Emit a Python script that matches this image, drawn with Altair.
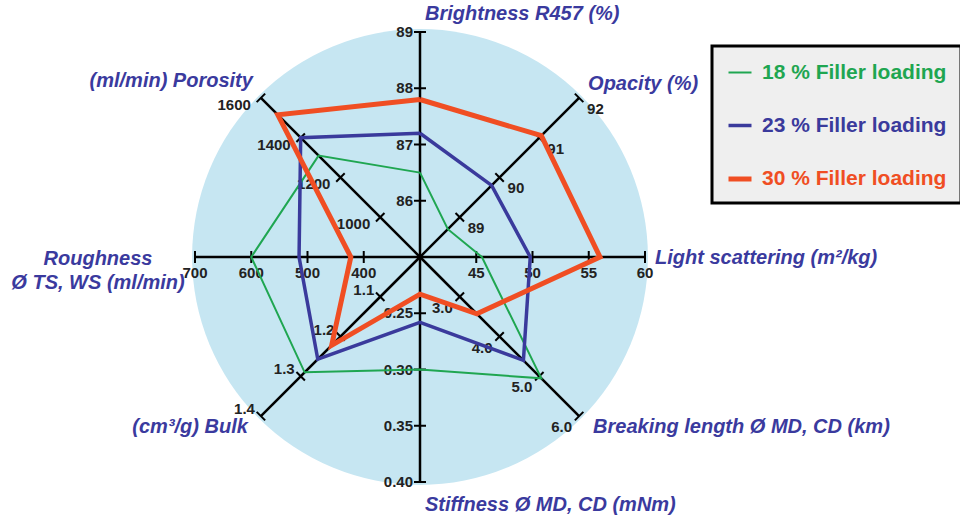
import math

import altair as alt
import pandas as pd

# ---- chart content -------------------------------------------------------
axis_names = [
    "Brightness R457 (%)",
    "Opacity (%)",
    "Light scattering (m²/kg)",
    "Breaking length Ø MD, CD (km)",
    "Stiffness Ø MD, CD (mNm)",
    "(cm³/g) Bulk",
    "Roughness\nØ TS, WS (ml/min)",
    "(ml/min) Porosity",
]
axis_min = [85, 88, 40, 2.0, 0.20, 1.0, 300, 800]
axis_max = [89, 92, 60, 6.0, 0.40, 1.4, 700, 1600]
tick_labels = [
    ["86", "87", "88", "89"],
    ["89", "90", "91", "92"],
    ["45", "50", "55", "60"],
    ["3.0", "4.0", "5.0", "6.0"],
    ["0.25", "0.30", "0.35", "0.40"],
    ["1.1", "1.2", "1.3", "1.4"],
    ["400", "500", "600", "700"],
    ["1000", "1200", "1400", "1600"],
]
series = ["18 % Filler loading", "23 % Filler loading", "30 % Filler loading"]
values_18 = [86.5, 88.7, 45.5, 5.05, 0.30, 1.29, 600, 1310]
values_23 = [87.2, 89.8, 49.8, 4.6, 0.258, 1.257, 515, 1400]
values_30 = [87.8, 91.05, 56.0, 3.43, 0.233, 1.222, 423, 1515]

# ---- styling ---------------------------------------------------------------
series_colors = ["#1fa651", "#3a3a9c", "#f04e23"]
series_widths = [2, 5, 7]
title_blue = "#3a3a9e"
disc_color = "#c6e6f2"
FONT = "Liberation Sans"

W, H = 960, 518
CX, CY = 420, 257          # centre of the web, px
R = 225                    # px per unit of normalised radius

# per-axis tick-label placement: (align, dx, dy)
tick_label_style = [
    ("right", -7, 0),
    ("left", 8, 11),
    ("center", 0, 16),
    ("right", -7, 11),
    ("right", -7, 0),
    ("right", -6, -7),
    ("center", 0, 16),
    ("right", -10, 7),
]
# per-axis title placement: (align, dx, dy)
title_style = [
    ("left", 5, -18),
    ("left", 9, -14),
    ("left", 10, 1),
    ("left", 14, 11),
    ("left", 5, 23),
    ("right", -13, 11),
    ("center", -97, 2),
    ("right", -8, -17),
]

n_axes = len(axis_names)


def direction(i):
    a = math.radians(i * 360 / n_axes)
    return math.sin(a), math.cos(a)


def norm(i, v):
    return (v - axis_min[i]) / (axis_max[i] - axis_min[i])


# ---- data frames ---------------------------------------------------------
spokes = []
for i in range(n_axes):
    ux, uy = direction(i)
    spokes.append({"axis": i, "x": 0.0, "y": 0.0, "x2": ux, "y2": uy})
spokes = pd.DataFrame(spokes)

half_tick = 6 / R
ticks, labels = [], []
for i in range(n_axes):
    ux, uy = direction(i)
    for lab in tick_labels[i]:
        r = norm(i, float(lab))
        px, py = ux * r, uy * r
        ticks.append({"axis": i,
                      "x": px - uy * half_tick, "y": py + ux * half_tick,
                      "x2": px + uy * half_tick, "y2": py - ux * half_tick})
        labels.append({"axis": i, "x": px, "y": py, "label": lab})
ticks = pd.DataFrame(ticks)
labels = pd.DataFrame(labels)

titles = []
for i in range(n_axes):
    ux, uy = direction(i)
    titles.append({"axis": i, "x": ux, "y": uy, "title": axis_names[i]})
titles = pd.DataFrame(titles)

rows = []
for s, vals in zip(series, [values_18, values_23, values_30]):
    for k in range(n_axes + 1):
        i = k % n_axes
        ux, uy = direction(i)
        r = norm(i, vals[i])
        rows.append({"series": s, "order": k, "x": ux * r, "y": uy * r})
web = pd.DataFrame(rows)

disc = pd.DataFrame({"x": [0.0], "y": [0.0], "r": [1.013]})

# ---- scales --------------------------------------------------------------
xs = alt.Scale(domain=[-CX / R, (W - CX) / R], nice=False, zero=False)
ys = alt.Scale(domain=[-(H - CY) / R, CY / R], nice=False, zero=False)
X = alt.X("x:Q", scale=xs, axis=None)
Y = alt.Y("y:Q", scale=ys, axis=None)

background = alt.Chart(disc).mark_arc(color=disc_color, theta=0, theta2=2 * math.pi).encode(
    x=X, y=Y,
    radius=alt.Radius("r:Q", scale=alt.Scale(type="linear", domain=[0, 1], range=[0, R], zero=True)),
)

spoke_layer = alt.Chart(spokes).mark_rule(color="black", strokeWidth=2.5).encode(
    x=X, y=Y, x2="x2:Q", y2="y2:Q"
)
tick_layer = alt.Chart(ticks).mark_rule(color="black", strokeWidth=2).encode(
    x=X, y=Y, x2="x2:Q", y2="y2:Q"
)

label_layers = []
for i, (align, dx, dy) in enumerate(tick_label_style):
    label_layers.append(
        alt.Chart(labels[labels["axis"] == i]).mark_text(
            align=align, baseline="middle", dx=dx, dy=dy,
            font=FONT, fontSize=15, fontWeight="bold", color="#222222",
        ).encode(x=X, y=Y, text="label:N")
    )

title_layers = []
for i, (align, dx, dy) in enumerate(title_style):
    title_layers.append(
        alt.Chart(titles[titles["axis"] == i]).mark_text(
            align=align, baseline="middle", dx=dx, dy=dy, lineBreak="\n", lineHeight=24,
            font=FONT, fontSize=20, fontWeight="bold", fontStyle="italic", color=title_blue,
        ).encode(x=X, y=Y, text="title:N")
    )

label_color_expr = alt.ExprRef("scale('color', datum.value)")
legend = alt.Legend(
    title=None, orient="none", legendX=712, legendY=46,
    fillColor="#efefef", strokeColor="black", padding=14,
    symbolType="stroke", symbolSize=529, labelOffset=8, rowPadding=29,
    labelFont=FONT, labelFontSize=21, labelFontWeight="bold", labelLimit=400,
    labelColor=label_color_expr,
)

web_layer = alt.Chart(web).mark_line(strokeJoin="miter", strokeMiterLimit=10).encode(
    x=X, y=Y,
    order="order:Q",
    color=alt.Color("series:N", scale=alt.Scale(domain=series, range=series_colors), legend=legend),
    strokeWidth=alt.StrokeWidth("series:N", scale=alt.Scale(domain=series, range=series_widths),
                                legend=legend),
)

chart = alt.layer(
    background, spoke_layer, tick_layer, *label_layers, *title_layers, web_layer
).properties(
    width=W, height=H, padding=0, autosize=alt.AutoSizeParams(type="none"),
    background="white",
).configure_view(stroke=None).configure_legend(strokeWidth=3)

chart.save("out.html", embed_options={"renderer": "svg", "actions": False})
